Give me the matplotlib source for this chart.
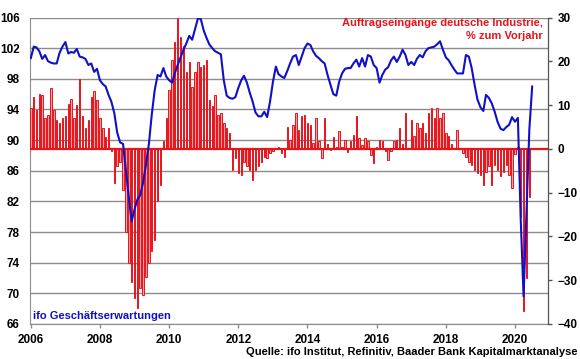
import numpy as np
import pandas as pd
import matplotlib
matplotlib.use("Agg")
import matplotlib.pyplot as plt
from datetime import datetime

plt.rcParams['font.family'] = ['Liberation Sans', 'DejaVu Sans']
plt.rcParams['font.weight'] = 'bold'

# ifo business expectations (left axis), monthly Jan 2006 - Jul 2020
ifo_2006 = [100.7, 102.2, 102.1, 101.6, 100.6, 101.1, 100.3, 100.1, 100.0, 100.0, 101.4, 102.2]
ifo_2007 = [102.8, 101.3, 101.5, 101.4, 101.9, 100.9, 100.8, 100.6, 99.8, 100.0, 98.9, 99.3]
ifo_2008 = [97.8, 97.3, 97.0, 95.9, 95.0, 93.5, 91.0, 89.7, 89.5, 86.0, 82.5, 79.4]
ifo_2009 = [81.0, 82.3, 82.8, 84.5, 86.8, 89.5, 93.3, 96.5, 98.5, 98.3, 99.4, 98.3]
ifo_2010 = [97.8, 97.5, 98.7, 99.8, 100.8, 101.8, 102.6, 103.6, 103.1, 104.5, 105.9, 105.8]
ifo_2011 = [104.3, 103.3, 102.5, 102.0, 101.6, 101.4, 101.2, 97.8, 95.8, 95.5, 95.4, 95.6]
ifo_2012 = [96.8, 97.8, 98.4, 97.5, 96.2, 95.0, 93.6, 93.1, 93.1, 93.7, 93.0, 95.0]
ifo_2013 = [97.6, 99.6, 98.6, 98.3, 98.1, 99.0, 100.0, 100.9, 101.1, 99.8, 100.9, 102.0]
ifo_2014 = [102.6, 102.4, 101.6, 101.0, 100.7, 100.3, 100.0, 98.5, 97.2, 96.0, 95.8, 97.6]
ifo_2015 = [98.7, 99.3, 99.4, 99.4, 100.0, 100.5, 99.6, 100.7, 99.6, 101.1, 100.9, 99.8]
ifo_2016 = [99.4, 97.5, 98.5, 99.2, 99.5, 100.4, 100.9, 100.2, 100.9, 101.8, 101.1, 99.8]
ifo_2017 = [100.2, 99.8, 100.6, 101.1, 100.8, 101.6, 102.0, 102.1, 102.2, 102.5, 102.9, 101.8]
ifo_2018 = [100.8, 100.4, 99.8, 99.2, 98.7, 98.7, 98.7, 101.1, 100.9, 99.4, 97.2, 95.3]
ifo_2019 = [94.3, 93.8, 95.9, 95.5, 94.8, 93.7, 92.4, 91.5, 91.3, 91.7, 92.0, 93.0]
ifo_2020 = [92.4, 92.9, 80.0, 69.6, 80.4, 91.4, 97.0]

# German industrial orders, % y/y (right axis), monthly Jan 2006 - Jun 2020
ord_2006 = [9.4, 11.9, 8.9, 12.6, 12.3, 7.0, 7.8, 14.0, 8.9, 6.7, 5.8, 7.0]
ord_2007 = [7.6, 10.2, 11.3, 7.0, 10.1, 15.9, 7.5, 4.7, 6.5, 11.8, 13.3, 11.2]
ord_2008 = [7.0, 4.7, 2.8, 4.7, -0.6, -7.8, -4.0, -2.9, -9.4, -18.9, -26.1, -30.3]
ord_2009 = [-34.1, -36.4, -31.8, -33.3, -29.2, -26.0, -23.4, -20.8, -12.0, -8.2, 1.7, 7.0]
ord_2010 = [13.5, 20.3, 24.5, 29.8, 25.6, 23.4, 17.6, 19.9, 14.2, 17.6, 19.9, 18.8]
ord_2011 = [19.2, 20.3, 11.2, 9.7, 12.3, 7.8, 8.1, 5.9, 4.7, 3.6, -4.8, -2.0]
ord_2012 = [-5.6, -5.9, -3.0, -4.0, -4.8, -7.1, -4.8, -4.0, -2.9, -1.8, -2.1, -1.0]
ord_2013 = [-0.6, 0.3, 0.5, -1.0, -1.8, 5.1, 2.1, 5.5, 8.1, 4.3, 7.4, 7.8]
ord_2014 = [5.9, 5.5, 1.3, 7.0, 1.7, -2.1, 7.0, 1.0, -0.2, 2.8, 0.5, 4.0]
ord_2015 = [0.5, 2.1, -0.8, 1.7, 3.2, 7.4, 2.4, 0.8, 2.4, 1.7, -1.4, -3.3]
ord_2016 = [0.5, 2.1, 1.7, -0.5, -2.5, -0.5, 1.7, 2.1, 4.7, 1.0, 8.1, 0.2]
ord_2017 = [6.6, 3.0, 5.9, 4.7, 5.9, 3.6, 8.1, 9.3, 7.0, 9.3, 7.0, 8.1]
ord_2018 = [3.6, 3.0, 1.0, 0.3, 4.3, 0.3, -1.0, -1.8, -2.9, -3.7, -4.8, -5.5]
ord_2019 = [-5.9, -8.2, -5.2, -4.0, -8.2, -3.7, -4.8, -6.3, -5.2, -3.7, -5.9, -9.0]
ord_2020 = [-1.2, 0.5, -15.5, -37.1, -29.5, -10.9]

ifo = (ifo_2006 + ifo_2007 + ifo_2008 + ifo_2009 + ifo_2010 + ifo_2011 + ifo_2012 + ifo_2013
       + ifo_2014 + ifo_2015 + ifo_2016 + ifo_2017 + ifo_2018 + ifo_2019 + ifo_2020)
orders = (ord_2006 + ord_2007 + ord_2008 + ord_2009 + ord_2010 + ord_2011 + ord_2012 + ord_2013
          + ord_2014 + ord_2015 + ord_2016 + ord_2017 + ord_2018 + ord_2019 + ord_2020)

ifo_dates = pd.date_range('2006-01-01', periods=len(ifo), freq='MS')
ord_dates = pd.date_range('2006-01-01', periods=len(orders), freq='MS')

left_ticks = [66, 70, 74, 78, 82, 86, 90, 94, 98, 102, 106]
right_ticks = [-40, -30, -20, -10, 0, 10, 20, 30]
year_ticks = [2006, 2008, 2010, 2012, 2014, 2016, 2018, 2020]

RED = '#e8141b'
BLUE = '#1010c8'
GRID = '#8c8c8c'

fig = plt.figure(figsize=(5.8, 3.59), dpi=100)
ax = fig.add_axes([29.5/580, 1 - 324/359, (548 - 29.5)/580, (324 - 17.5)/359])
ax2 = ax.twinx()

# left axis: grid
ax.set_ylim(66, 106)
ax.set_yticks(left_ticks)
ax.grid(axis='y', color=GRID, linewidth=1.0)
ax.tick_params(axis='y', length=0, pad=7, labelsize=8.5)
ax.spines['top'].set_visible(False)
ax.spines['left'].set_color(GRID)
ax.spines['bottom'].set_color(GRID)

# bars on right axis
ax2.bar(ord_dates, orders, width=15, color='#f7a3a3', edgecolor=RED, linewidth=0.7, zorder=2)
ax2.axhline(0, color=RED, linewidth=1.6, zorder=3)
ax2.set_yticks(right_ticks)
ax2.tick_params(axis='y', length=3, width=1, color='#555555', pad=4, labelsize=8.5)
ax2.spines['right'].set_color('#555555')
ax2.spines['top'].set_visible(False)
ax2.spines['left'].set_visible(False)
ax2.spines['bottom'].set_visible(False)

# ifo line drawn over bars, in left-axis coordinates
ax2.plot(ifo_dates, ifo, color=BLUE, linewidth=1.5, zorder=4, transform=ax.transData)
ax2.set_ylim(-40, 30)

ax.set_xlim(datetime(2005, 12, 18), datetime(2020, 12, 15))
ax.set_xticks([datetime(y, 1, 1) for y in year_ticks])
ax.set_xticklabels([str(y) for y in year_ticks])
ax.tick_params(axis='x', length=3, width=1, color=GRID, pad=4, labelsize=8.5)

for lbl in ax.get_xticklabels() + ax.get_yticklabels() + ax2.get_yticklabels():
    lbl.set_fontweight('bold')

fig.text(543/580, 1 - 18/359, 'Auftragseingänge deutsche Industrie,\n% zum Vorjahr',
         ha='right', va='top', color=RED, fontsize=8, fontweight='bold', linespacing=1.35)
fig.text(33/580, 1 - 316/359, 'ifo Geschäftserwartungen', ha='left', va='center',
         color=BLUE, fontsize=8, fontweight='bold')
fig.text(577/580, 1 - 352/359, 'Quelle: ifo Institut, Refinitiv, Baader Bank Kapitalmarktanalyse',
         ha='right', va='center', color='black', fontsize=8, fontweight='bold')

fig.savefig('out.png', dpi=100)
